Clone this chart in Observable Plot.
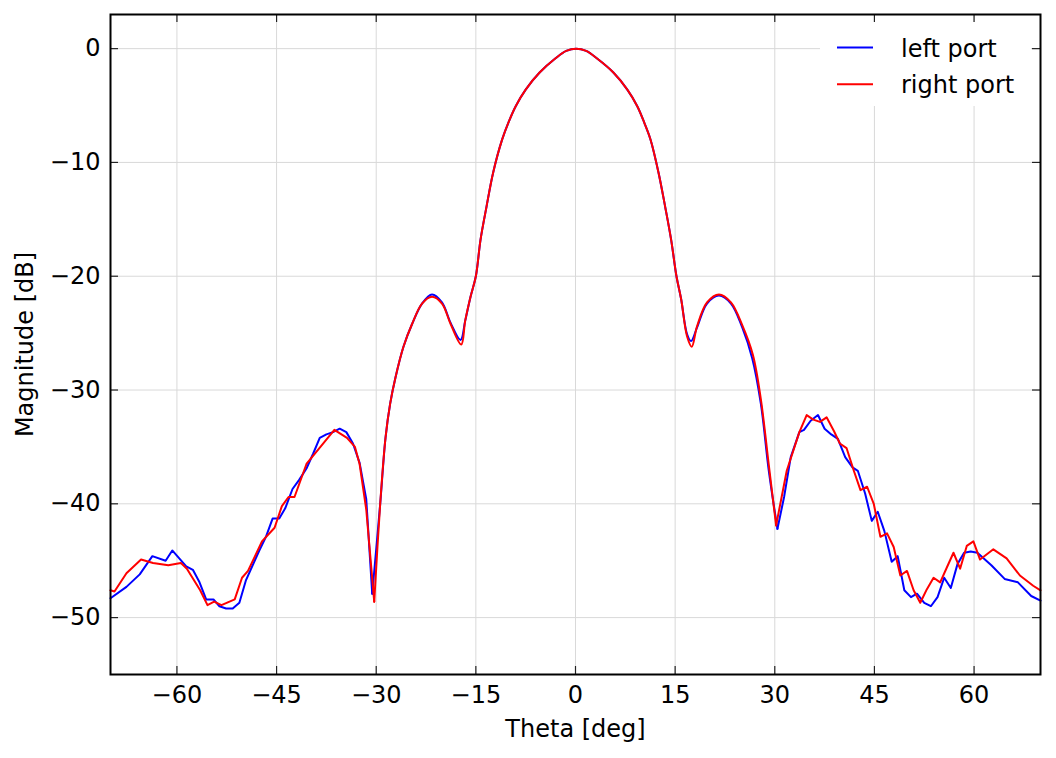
<!DOCTYPE html>
<html>
<head>
<meta charset="utf-8">
<script src="https://cdn.jsdelivr.net/npm/d3@7"></script>
<script src="https://cdn.jsdelivr.net/npm/@observablehq/plot@0.6"></script>
<style>
  html, body { margin: 0; padding: 0; background: white; }
  #chart { width: 1056px; height: 758px; }
</style>
</head>
<body>
<div id="chart"></div>
<script>
// ---- Data ----
const seriesNames = ["left port", "right port"];

const thetaLeft = [-70, -67.6, -65.6, -63.7, -61.7, -60.7, -58.6, -57.6, -56.6, -55.6, -54.5, -53.6, -52.6, -51.6, -50.6, -49.6, -48.6, -47.6, -46.6, -45.6, -44.6, -43.7, -42.6, -41.6, -40.5, -39.5, -38.5, -37.5, -36.5, -35.5, -34.5, -33.5, -32.5, -31.5, -30.6,
  -29.4, -28.6, -27.9, -27.1, -25.9, -24.6, -23.1, -21.6, -20.1, -18.8, -17.3, -16.6, -15.8, -15.0, -14.3, -13.4, -12.4, -11.05, -10.1, -9.0, -7.5, -5.4, -3.0, -1.4, 0.1, 1.6, 3.2, 5.7, 7.8, 9.3, 10.35, 11.3, 12.5, 13.5, 14.4, 15.2, 15.9, 16.8, 17.4, 18.3, 19.8, 21.6, 23.4, 25.1, 26.6, 27.9, 29.1,
  30.4, 31.4, 32.4, 33.7, 34.4, 35.4, 36.5, 37.5, 38.5, 39.5, 40.6, 41.7, 42.5, 43.6, 44.6, 45.5, 46.5, 47.6, 48.5, 49.5, 50.5, 51.4, 52.5, 53.5, 54.5, 55.5, 56.5, 57.5, 58.5, 59.5, 60.5, 62.6, 64.6, 66.6, 68.6, 70];
const magLeft = [-48.3, -47.3, -46.2, -44.6, -45.0, -44.1, -45.5, -45.8, -46.9, -48.4, -48.4, -49.0, -49.2, -49.2, -48.7, -46.7, -45.4, -44.1, -42.9, -41.3, -41.3, -40.4, -38.7, -37.9, -36.9, -35.6, -34.2, -33.9, -33.7, -33.4, -33.7, -34.7, -36.4, -39.6, -47.9,
  -40.0, -34.2, -31.2, -28.9, -26.2, -24.2, -22.4, -21.6, -22.3, -24.1, -25.6, -23.9, -21.8, -20.0, -16.8, -13.9, -10.9, -8.0, -6.5, -5.06, -3.6, -2.1, -0.85, -0.2, 0, -0.2, -0.85, -2.1, -3.6, -5.06, -6.5, -8.0, -10.9, -13.9, -16.8, -20.0, -22.0, -25.1, -25.7, -24.5, -22.4, -21.7, -22.4, -24.5, -27.2, -31.2, -37.1,
  -42.2, -39.4, -35.9, -33.7, -33.5, -32.7, -32.2, -33.4, -33.9, -34.3, -35.9, -36.8, -37.1, -39.1, -41.5, -40.7, -42.4, -45.1, -44.6, -47.6, -48.2, -47.9, -48.7, -49.0, -48.2, -46.5, -47.4, -45.3, -44.3, -44.2, -44.3, -45.4, -46.6, -46.9, -48.1, -48.5];

const thetaRight = [-70, -69.4, -67.6, -65.4, -63.6, -61.3, -59.4, -58.5, -56.5, -55.4, -54.4, -53.3, -51.3, -50.2, -49.3, -47.2, -45.3, -44.2, -43.2, -42.3, -40.5, -38.4, -36.3, -34.4, -33.2, -32.5, -31.5, -30.3,
  -29.4, -28.6, -27.9, -27.1, -25.9, -24.6, -23.1, -21.6, -20.1, -18.8, -17.2, -16.6, -15.8, -15.0, -14.3, -13.4, -12.4, -11.05, -10.1, -9.0, -7.5, -5.4, -3.0, -1.4, 0.1, 1.6, 3.2, 5.7, 7.8, 9.3, 10.35, 11.3, 12.5, 13.5, 14.4, 15.2, 15.9, 16.8, 17.5, 18.3, 19.8, 21.6, 23.4, 25.1, 26.7, 27.9, 29.1,
  30.2, 31.8, 33.7, 34.8, 35.8, 36.8, 37.8, 38.9, 39.8, 40.8, 41.9, 42.9, 43.9, 44.9, 45.9, 46.9, 47.9, 48.9, 49.9, 50.9, 51.9, 52.9, 53.9, 54.9, 55.9, 56.9, 57.9, 58.9, 59.9, 60.9, 62.9, 64.9, 66.9, 68.9, 70];
const magRight = [-47.6, -47.7, -46.1, -44.9, -45.2, -45.4, -45.2, -45.7, -47.6, -48.9, -48.6, -48.9, -48.4, -46.5, -45.9, -43.3, -42.1, -40.2, -39.4, -39.4, -36.5, -35.0, -33.5, -34.2, -35.0, -36.5, -40.5, -48.6,
  -40.0, -34.2, -31.2, -28.9, -26.2, -24.2, -22.4, -21.8, -22.4, -24.2, -26.0, -23.9, -21.8, -20.0, -16.8, -13.9, -10.9, -8.0, -6.5, -5.06, -3.6, -2.1, -0.85, -0.2, 0, -0.2, -0.85, -2.1, -3.6, -5.06, -6.5, -8.0, -10.9, -13.9, -16.8, -20.0, -22.0, -25.3, -26.2, -24.4, -22.3, -21.6, -22.3, -24.3, -26.9, -30.8, -36.6,
  -41.9, -37.1, -33.7, -32.2, -32.6, -32.8, -32.4, -33.6, -34.7, -35.1, -37.1, -38.8, -38.5, -40.0, -42.9, -42.6, -43.8, -46.3, -45.9, -47.6, -48.7, -47.5, -46.5, -46.9, -45.6, -44.3, -45.7, -43.7, -43.3, -44.9, -44.0, -44.8, -46.3, -47.2, -47.6];

// first nulls either side of the main beam: the measured, noisy parts lie outside them
const nullsLeft = [-30.6, 30.4];
const nullsRight = [-30.3, 30.2];

const xTicks = [-60, -45, -30, -15, 0, 15, 30, 45, 60];
const yTicks = [-50, -40, -30, -20, -10, 0];
const xLabel = "Theta [deg]";
const yLabel = "Magnitude [dB]";
const seriesColors = ["#0000ff", "#ff0000"];

// ---- Build tables ----
const leftData = thetaLeft.map((t, i) => ({theta: t, mag: magLeft[i]}));
const rightData = thetaRight.map((t, i) => ({theta: t, mag: magRight[i]}));

function seriesMarks(data, nulls, color) {
  const [a, b] = nulls;
  const opts = {x: "theta", y: "mag", stroke: color, strokeWidth: 2};
  return [
    Plot.line(data.filter(d => d.theta <= a), opts),
    Plot.line(data.filter(d => d.theta >= a && d.theta <= b), {...opts, curve: "catmull-rom"}),
    Plot.line(data.filter(d => d.theta >= b), opts)
  ];
}

const W = 1056, H = 758;
const mL = 110, mR = 16, mT = 14, mB = 84;
const frameW = W - mL - mR, frameH = H - mT - mB;
const tickLen = 8;
const fmt = d3.format("d"); // uses the U+2212 minus sign
const gridColor = "#d9d9d9";
const font = "'DejaVu Sans', sans-serif";

const svg = Plot.plot({
  width: W,
  height: H,
  marginLeft: mL,
  marginRight: mR,
  marginTop: mT,
  marginBottom: mB,
  style: {fontFamily: font, fontSize: "24px", background: "white", color: "black"},
  x: {domain: [-70, 70]},
  y: {domain: [-55, 3]},
  marks: [
    Plot.gridX(xTicks, {stroke: gridColor, strokeOpacity: 1, strokeWidth: 1}),
    Plot.gridY(yTicks, {stroke: gridColor, strokeOpacity: 1, strokeWidth: 1}),
    ...seriesMarks(leftData, nullsLeft, seriesColors[0]),
    ...seriesMarks(rightData, nullsRight, seriesColors[1]),
    // inward ticks on all four sides
    Plot.tickX(xTicks, {x: d => d, insetTop: frameH - tickLen, stroke: "#222", strokeWidth: 1.2}),
    Plot.tickX(xTicks, {x: d => d, insetBottom: frameH - tickLen, stroke: "#222", strokeWidth: 1.2}),
    Plot.tickY(yTicks, {y: d => d, insetRight: frameW - tickLen, stroke: "#222", strokeWidth: 1.2}),
    Plot.tickY(yTicks, {y: d => d, insetLeft: frameW - tickLen, stroke: "#222", strokeWidth: 1.2}),
    Plot.axisX(xTicks, {tickSize: 0, tickPadding: 11, tickFormat: fmt, label: null, fontSize: 24}),
    Plot.axisY(yTicks, {tickSize: 0, tickPadding: 10, tickFormat: fmt, label: null, fontSize: 24}),
    Plot.text([xLabel], {text: d => d, frameAnchor: "bottom", dy: 55, textAnchor: "middle", lineAnchor: "middle", fontSize: 24, fill: "black"}),
    Plot.text([yLabel], {text: d => d, frameAnchor: "left", dx: -85, rotate: -90, textAnchor: "middle", lineAnchor: "middle", fontSize: 24, fill: "black"}),
    Plot.frame({stroke: "black", strokeWidth: 2})
  ]
});

// ---- Legend inside the top-right corner ----
const s = d3.select(svg);
const lg = s.append("g").attr("class", "legend");
lg.append("rect").attr("x", 820).attr("y", 22).attr("width", 211).attr("height", 84).attr("fill", "white");
seriesNames.forEach((name, i) => {
  const y = 47.5 + i * 36.7;
  lg.append("line").attr("x1", 837).attr("x2", 873).attr("y1", y).attr("y2", y)
    .attr("stroke", seriesColors[i]).attr("stroke-width", 2);
  lg.append("text").attr("x", 901).attr("y", y + 9).attr("text-anchor", "start")
    .attr("font-family", font).attr("font-size", 24).attr("fill", "black").text(name);
});

document.getElementById("chart").appendChild(svg);
</script>
</body>
</html>
